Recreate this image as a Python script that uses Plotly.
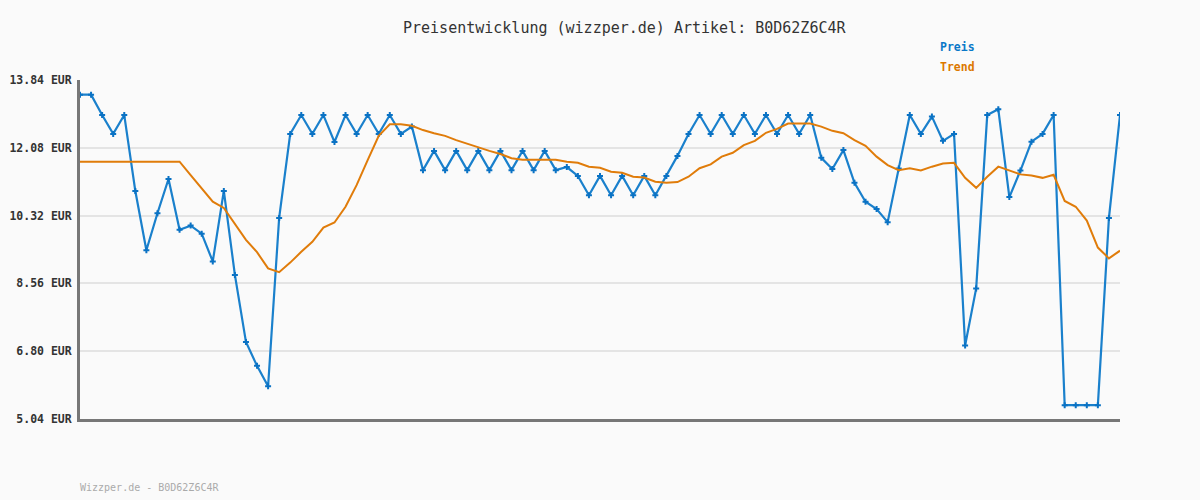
import plotly.graph_objects as go

preis = [13.46, 13.46, 12.93, 12.44, 12.93, 10.96, 9.42, 10.38, 11.27, 9.95,
         10.06, 9.85, 9.13, 10.96, 8.78, 7.04, 6.42, 5.89, 10.26, 12.44,
         12.93, 12.44, 12.93, 12.23, 12.93, 12.44, 12.93, 12.44, 12.93, 12.44,
         12.63, 11.50, 12.00, 11.50, 12.00, 11.50, 12.00, 11.50, 12.00, 11.50,
         12.00, 11.50, 12.00, 11.50, 11.58, 11.35, 10.85, 11.35, 10.85, 11.35,
         10.85, 11.35, 10.85, 11.35, 11.87, 12.44, 12.93, 12.44, 12.93, 12.44,
         12.93, 12.44, 12.93, 12.44, 12.93, 12.44, 12.93, 11.82, 11.53, 12.02,
         11.17, 10.68, 10.49, 10.15, 11.54, 12.93, 12.44, 12.89, 12.26, 12.44,
         6.95, 8.43, 12.93, 13.08, 10.80, 11.49, 12.24, 12.44, 12.93, 5.40,
         5.40, 5.40, 5.40, 10.26, 12.93]

trend = [11.72, 11.72, 11.72, 11.72, 11.72, 11.72, 11.72, 11.72, 11.72, 11.72,
         11.37, 11.03, 10.68, 10.52, 10.10, 9.69, 9.37, 8.95, 8.85, 9.10,
         9.38, 9.64, 10.01, 10.14, 10.55, 11.11, 11.76, 12.39, 12.69, 12.69,
         12.65, 12.54, 12.46, 12.39, 12.28, 12.18, 12.09, 12.00, 11.92, 11.81,
         11.77, 11.77, 11.77, 11.77, 11.72, 11.69, 11.59, 11.56, 11.46, 11.43,
         11.33, 11.31, 11.20, 11.17, 11.19, 11.33, 11.55, 11.65, 11.85, 11.95,
         12.15, 12.26, 12.47, 12.57, 12.71, 12.71, 12.71, 12.63, 12.52, 12.46,
         12.28, 12.13, 11.85, 11.63, 11.50, 11.55, 11.49, 11.59, 11.67, 11.69,
         11.30, 11.04, 11.33, 11.59, 11.50, 11.39, 11.36, 11.30, 11.38, 10.70,
         10.55, 10.19, 9.49, 9.21, 9.41]

tick_vals = [5.04, 6.80, 8.56, 10.32, 12.08, 13.84]
tick_text = ["5.04 EUR", "6.80 EUR", "8.56 EUR", "10.32 EUR", "12.08 EUR", "13.84 EUR"]

x = list(range(len(preis)))

BLUE = "#1a80cc"
BLUE_DARK = "#0a72c4"
ORANGE = "#e07c0a"
MONO = "DejaVu Sans Mono, monospace"

fig = go.Figure()
fig.add_trace(go.Scatter(
    x=x, y=preis, mode="lines+markers", name="Preis",
    line=dict(color=BLUE, width=2.2),
    marker=dict(symbol="cross", size=5, color=BLUE_DARK, line=dict(width=0)),
))
fig.add_trace(go.Scatter(
    x=x, y=trend, mode="lines", name="Trend",
    line=dict(color=ORANGE, width=2),
))

L, R, T, B = 80, 80, 80, 81
W, H = 1200, 500
pw, ph = W - L - R, H - T - B

def px_x(px):
    return (px - L) / pw

def px_y(py):
    return (H - B - py) / ph

fig.update_layout(
    width=W, height=H,
    margin=dict(l=L, r=R, t=T, b=B, pad=0, autoexpand=False),
    paper_bgcolor="#fafafa", plot_bgcolor="#fafafa",
    showlegend=False,
    font=dict(family=MONO, color="#333333"),
    xaxis=dict(range=[0, len(preis) - 1], showgrid=False, zeroline=False,
               showticklabels=False, ticks="", showline=True, automargin=False,
               linecolor="#777777", linewidth=3),
    yaxis=dict(range=[tick_vals[0], tick_vals[-1]], tickvals=tick_vals,
               ticktext=tick_text, showgrid=True, gridcolor="#e4e4e4",
               gridwidth=2, zeroline=False, showline=True, automargin=False,
               linecolor="#777777", linewidth=3, ticks="",
               ticklabelstandoff=3,
               tickfont=dict(family=MONO, size=11.5, color="#333333", weight="bold")),
    annotations=[
        dict(text="Preisentwicklung (wizzper.de) Artikel: B0D62Z6C4R",
             xref="paper", yref="paper", x=px_x(624), y=px_y(28),
             xanchor="center", yanchor="middle", showarrow=False,
             font=dict(family=MONO, size=15, color="#333333")),
        dict(text="<b>Preis</b>", xref="paper", yref="paper",
             x=px_x(977), y=px_y(47), xanchor="right", yanchor="middle",
             showarrow=False, font=dict(family=MONO, size=11.5, color="#0a78c8")),
        dict(text="<b>Trend</b>", xref="paper", yref="paper",
             x=px_x(977), y=px_y(67), xanchor="right", yanchor="middle",
             showarrow=False, font=dict(family=MONO, size=11.5, color="#dc7800")),
        dict(text="Wizzper.de - B0D62Z6C4R", xref="paper", yref="paper",
             x=px_x(78), y=px_y(487), xanchor="left", yanchor="middle",
             showarrow=False, font=dict(family=MONO, size=10, color="#aaaaaa")),
    ],
)

fig.write_html("out.html")
